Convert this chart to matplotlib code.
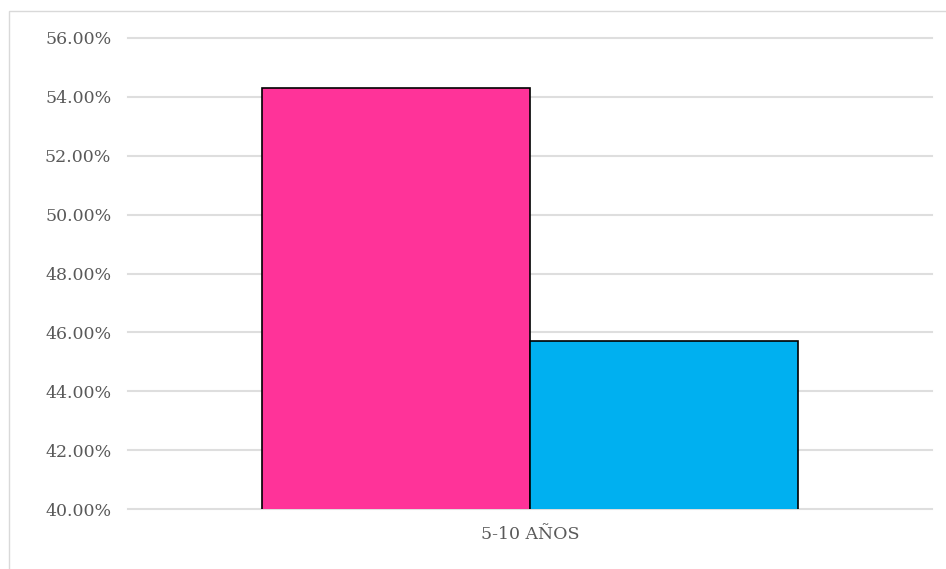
import matplotlib.pyplot as plt
import matplotlib.patches as mpatches
from matplotlib.ticker import FuncFormatter, MultipleLocator

categories = ['5-10 AÑOS']
series_a = [0.5429]
series_b = [0.4571]
colors = ['#FF3399', '#00B0F0']

plt.rcParams['font.family'] = ['DejaVu Serif']

fig = plt.figure(figsize=(9.46, 5.69), dpi=100)
ax = fig.add_axes([128 / 946, 60 / 569, 804 / 946, 471 / 569])

# light frame around the chart area (clipped at right/bottom like the source)
fig.patches.append(mpatches.Rectangle((9 / 946, -0.1), 1.2, (569 - 11) / 569 + 0.1,
                                      transform=fig.transFigure, fill=False,
                                      edgecolor='#d9d9d9', linewidth=1))

x = range(len(categories))
width = 1.0
ax.bar([i - width / 2 for i in x], series_a, width=width, color=colors[0],
       edgecolor='black', linewidth=1.2, zorder=3)
ax.bar([i + width / 2 for i in x], series_b, width=width, color=colors[1],
       edgecolor='black', linewidth=1.2, zorder=3)

ax.set_ylim(0.40, 0.56)
ax.set_xlim(-1.5, 1.5)
ax.yaxis.set_major_locator(MultipleLocator(0.02))
ax.yaxis.set_major_formatter(FuncFormatter(lambda v, p: f'{v * 100:.2f}%'))
ax.set_xticks(list(x))
ax.set_xticklabels(categories)
ax.grid(axis='y', color='#dedede', linewidth=1.5, zorder=0)
for gl in ax.get_ygridlines():
    gl.set_clip_on(False)
ax.set_axisbelow(True)
for s in ax.spines.values():
    s.set_visible(False)
ax.tick_params(axis='both', length=0, labelsize=12.5, colors='#595959')
ax.tick_params(axis='y', pad=12)
ax.tick_params(axis='x', pad=12)

fig.savefig('out.png', dpi=100)
